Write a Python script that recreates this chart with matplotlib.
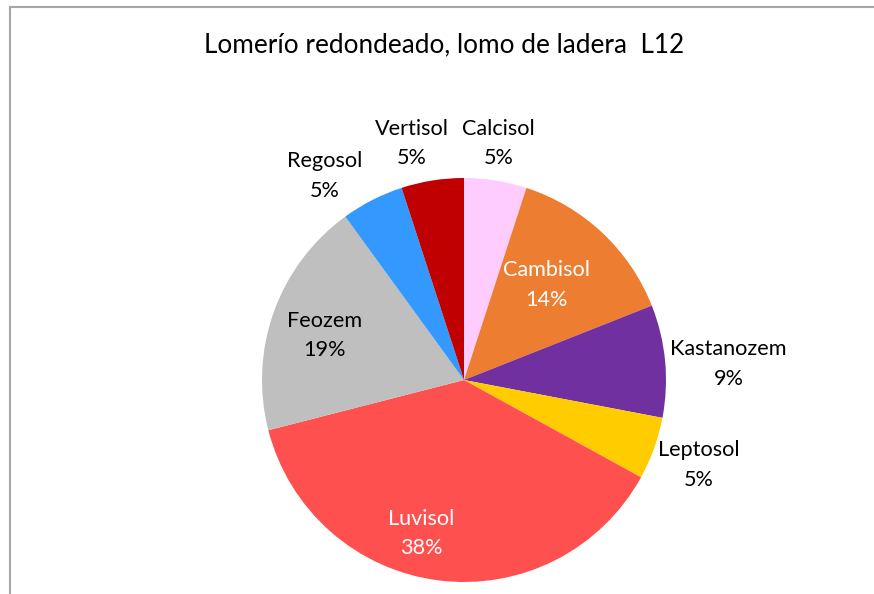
import matplotlib
matplotlib.use("Agg")
import matplotlib.pyplot as plt
import numpy as np

title = "Lomerío redondeado, lomo de ladera  L12"
categories = ["Calcisol", "Cambisol", "Kastanozem", "Leptosol", "Luvisol", "Feozem", "Regosol", "Vertisol"]
values = [5, 14, 9, 5, 38, 19, 5, 5]
colors = ["#FFCCFF", "#ED7D31", "#7030A0", "#FFCC00", "#FF5050", "#BFBFBF", "#3399FF", "#C00000"]
text_colors = ["black", "white", "black", "black", "white", "black", "black", "black"]
# label positions in pie-radius units (layout)
label_pos = [(0.17, 1.17), (0.41, 0.47), (1.31, 0.08), (1.16, -0.42),
             (-0.21, -0.76), (-0.69, 0.22), (-0.69, 1.01), (-0.26, 1.17)]

plt.rcParams['font.family'] = ['Lato', 'DejaVu Sans']

W, H = 874, 594
fig = plt.figure(figsize=(W / 100, H / 100), dpi=100)
fig.patch.set_facecolor("white")

# border lines
fig.add_artist(plt.Line2D([9.5 / W, 9.5 / W], [0, 1 - 6.5 / H], color="#A6A6A6", lw=1.5))
fig.add_artist(plt.Line2D([9.5 / W, 1], [1 - 6.5 / H, 1 - 6.5 / H], color="#A6A6A6", lw=1.5))

cx, cy, r = 464, 380, 202
ax = fig.add_axes([(cx - r) / W, (H - cy - r) / H, 2 * r / W, 2 * r / H])
ax.pie(values, colors=colors, startangle=90, counterclock=False, radius=1,
       wedgeprops=dict(linewidth=0))
ax.set_xlim(-1, 1)
ax.set_ylim(-1, 1)
ax.set_aspect("equal")
ax.axis("off")

total = sum(values)
for cat, v, tc, (lx, ly) in zip(categories, values, text_colors, label_pos):
    ax.text(lx, ly, f"{cat}\n{round(100 * v / total)}%", ha="center", va="center",
            color=tc, fontsize=15.6, linespacing=1.6, clip_on=False)

fig.text(444 / W, 1 - 45 / H, title, ha="center", va="center", fontsize=18.8)

fig.savefig("out.png", dpi=100)
